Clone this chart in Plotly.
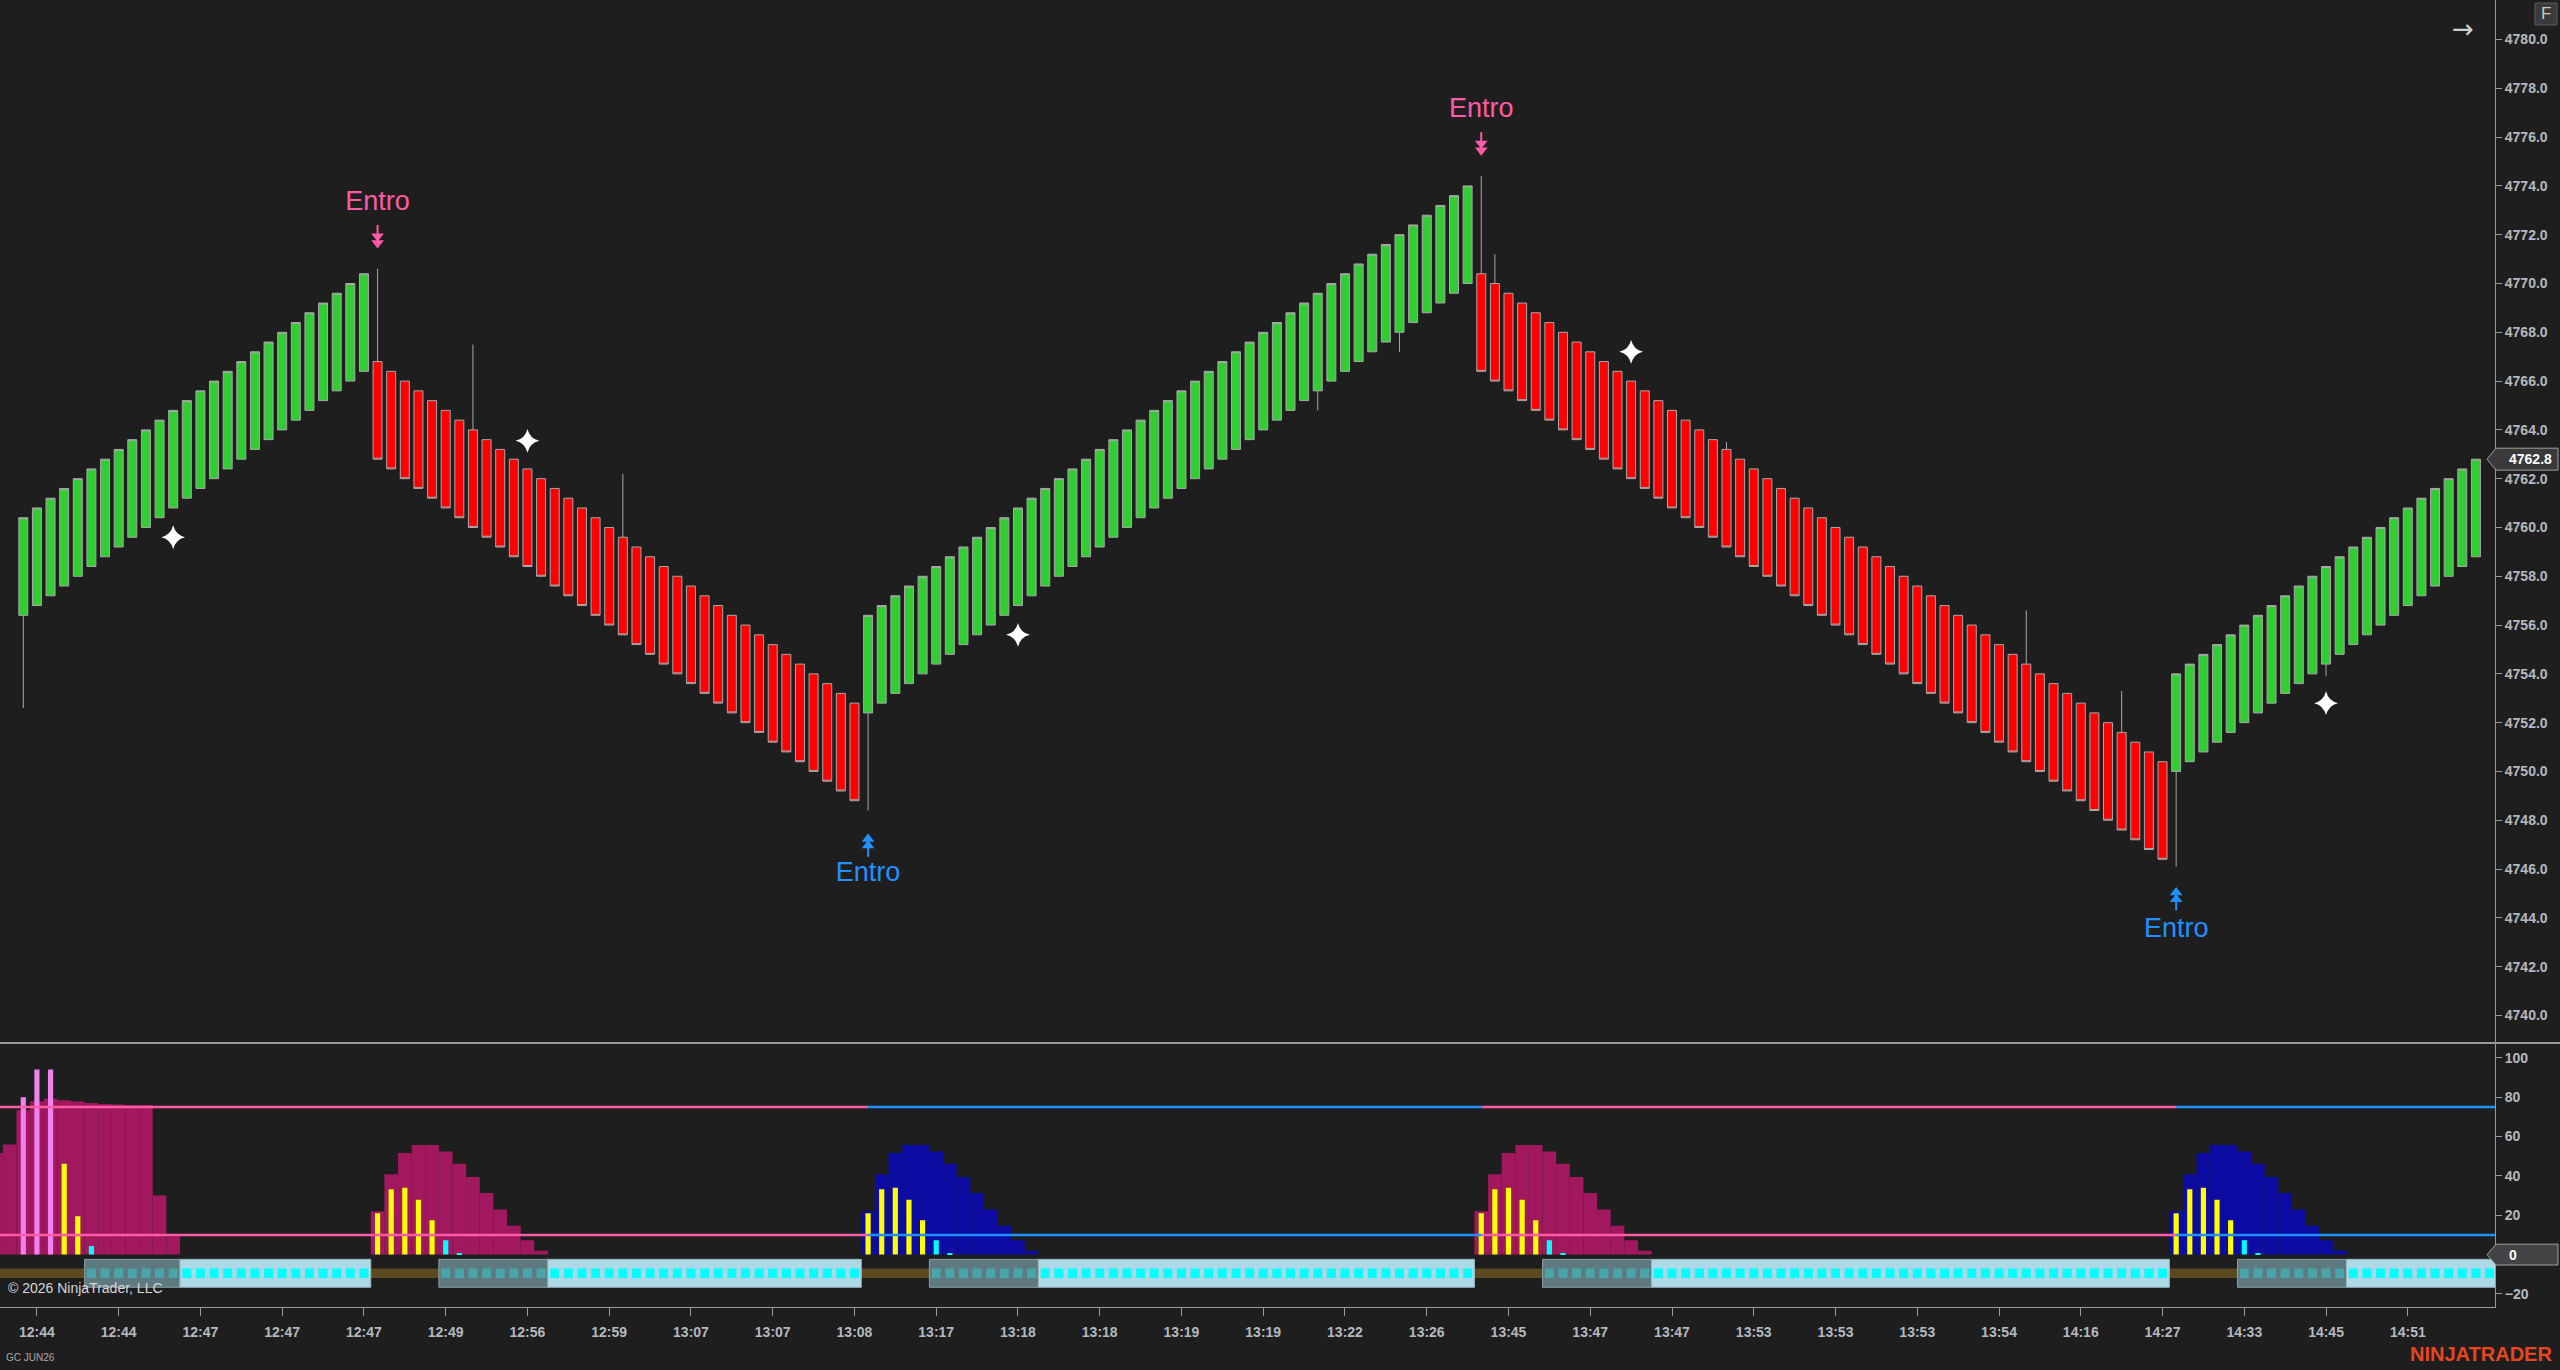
import plotly.graph_objects as go

# ---------------- colours ----------------
BG = "#1e1e1e"
AXIS = "#9a9a9a"
GREEN = "#32CD32"
RED = "#FF0000"
OUTLINE = "#a8a8a8"
PINK = "#FF5AA5"
BLUE = "#1E90FF"
MAGENTA_AREA = "#A1185E"
BLUE_AREA = "#0C0CA3"
YELLOW = "#FFFF00"
VIOLET = "#EE82EE"
CYAN = "#00FFFF"
TEAL = "#48A6AA"
GRAYBOX = "#5E7A80"
LIGHTBOX = "#ADD8E6"
OLIVE = "#5B4A1F"
LABEL = "#B4B9BF"

# ---------------- price pane data ----------------
opens = [
    # up leg, bars 0-25
    4756.4, 4756.8, 4757.2, 4757.6, 4758.0, 4758.4, 4758.8, 4759.2, 4759.6, 4760.0,
    4760.4, 4760.8, 4761.2, 4761.6, 4762.0, 4762.4, 4762.8, 4763.2, 4763.6, 4764.0,
    4764.4, 4764.8, 4765.2, 4765.6, 4766.0, 4766.4,
    # down leg, bars 26-61
    4766.8, 4766.4, 4766.0, 4765.6, 4765.2, 4764.8, 4764.4, 4764.0, 4763.6, 4763.2,
    4762.8, 4762.4, 4762.0, 4761.6, 4761.2, 4760.8, 4760.4, 4760.0, 4759.6, 4759.2,
    4758.8, 4758.4, 4758.0, 4757.6, 4757.2, 4756.8, 4756.4, 4756.0, 4755.6, 4755.2,
    4754.8, 4754.4, 4754.0, 4753.6, 4753.2, 4752.8,
    # up leg, bars 62-106
    4752.4, 4752.8, 4753.2, 4753.6, 4754.0, 4754.4, 4754.8, 4755.2, 4755.6, 4756.0,
    4756.4, 4756.8, 4757.2, 4757.6, 4758.0, 4758.4, 4758.8, 4759.2, 4759.6, 4760.0,
    4760.4, 4760.8, 4761.2, 4761.6, 4762.0, 4762.4, 4762.8, 4763.2, 4763.6, 4764.0,
    4764.4, 4764.8, 4765.2, 4765.6, 4766.0, 4766.4, 4766.8, 4767.2, 4767.6, 4768.0,
    4768.4, 4768.8, 4769.2, 4769.6, 4770.0,
    # down leg, bars 107-157
    4770.4, 4770.0, 4769.6, 4769.2, 4768.8, 4768.4, 4768.0, 4767.6, 4767.2, 4766.8,
    4766.4, 4766.0, 4765.6, 4765.2, 4764.8, 4764.4, 4764.0, 4763.6, 4763.2, 4762.8,
    4762.4, 4762.0, 4761.6, 4761.2, 4760.8, 4760.4, 4760.0, 4759.6, 4759.2, 4758.8,
    4758.4, 4758.0, 4757.6, 4757.2, 4756.8, 4756.4, 4756.0, 4755.6, 4755.2, 4754.8,
    4754.4, 4754.0, 4753.6, 4753.2, 4752.8, 4752.4, 4752.0, 4751.6, 4751.2, 4750.8,
    4750.4,
    # up leg, bars 158-180
    4750.0, 4750.4, 4750.8, 4751.2, 4751.6, 4752.0, 4752.4, 4752.8, 4753.2, 4753.6,
    4754.0, 4754.4, 4754.8, 4755.2, 4755.6, 4756.0, 4756.4, 4756.8, 4757.2, 4757.6,
    4758.0, 4758.4, 4758.8,
]

closes = [
    4760.4, 4760.8, 4761.2, 4761.6, 4762.0, 4762.4, 4762.8, 4763.2, 4763.6, 4764.0,
    4764.4, 4764.8, 4765.2, 4765.6, 4766.0, 4766.4, 4766.8, 4767.2, 4767.6, 4768.0,
    4768.4, 4768.8, 4769.2, 4769.6, 4770.0, 4770.4,
    4762.8, 4762.4, 4762.0, 4761.6, 4761.2, 4760.8, 4760.4, 4760.0, 4759.6, 4759.2,
    4758.8, 4758.4, 4758.0, 4757.6, 4757.2, 4756.8, 4756.4, 4756.0, 4755.6, 4755.2,
    4754.8, 4754.4, 4754.0, 4753.6, 4753.2, 4752.8, 4752.4, 4752.0, 4751.6, 4751.2,
    4750.8, 4750.4, 4750.0, 4749.6, 4749.2, 4748.8,
    4756.4, 4756.8, 4757.2, 4757.6, 4758.0, 4758.4, 4758.8, 4759.2, 4759.6, 4760.0,
    4760.4, 4760.8, 4761.2, 4761.6, 4762.0, 4762.4, 4762.8, 4763.2, 4763.6, 4764.0,
    4764.4, 4764.8, 4765.2, 4765.6, 4766.0, 4766.4, 4766.8, 4767.2, 4767.6, 4768.0,
    4768.4, 4768.8, 4769.2, 4769.6, 4770.0, 4770.4, 4770.8, 4771.2, 4771.6, 4772.0,
    4772.4, 4772.8, 4773.2, 4773.6, 4774.0,
    4766.4, 4766.0, 4765.6, 4765.2, 4764.8, 4764.4, 4764.0, 4763.6, 4763.2, 4762.8,
    4762.4, 4762.0, 4761.6, 4761.2, 4760.8, 4760.4, 4760.0, 4759.6, 4759.2, 4758.8,
    4758.4, 4758.0, 4757.6, 4757.2, 4756.8, 4756.4, 4756.0, 4755.6, 4755.2, 4754.8,
    4754.4, 4754.0, 4753.6, 4753.2, 4752.8, 4752.4, 4752.0, 4751.6, 4751.2, 4750.8,
    4750.4, 4750.0, 4749.6, 4749.2, 4748.8, 4748.4, 4748.0, 4747.6, 4747.2, 4746.8,
    4746.4,
    4754.0, 4754.4, 4754.8, 4755.2, 4755.6, 4756.0, 4756.4, 4756.8, 4757.2, 4757.6,
    4758.0, 4758.4, 4758.8, 4759.2, 4759.6, 4760.0, 4760.4, 4760.8, 4761.2, 4761.6,
    4762.0, 4762.4, 4762.8,
]

# wicks that stick out of the bodies (bar index -> price); other bars have no wick
wick_highs = {26: 4770.6, 33: 4767.5, 44: 4762.2, 107: 4774.4, 108: 4771.2,
              125: 4763.5, 147: 4756.6, 154: 4753.3}
wick_lows = {0: 4752.6, 62: 4748.4, 95: 4764.8, 101: 4767.2, 158: 4746.1, 169: 4753.9}

bar_idx = list(range(len(opens)))
highs = [wick_highs.get(i, max(o, c)) for i, (o, c) in enumerate(zip(opens, closes))]
lows = [wick_lows.get(i, min(o, c)) for i, (o, c) in enumerate(zip(opens, closes))]

# signal markers
star_x = [11, 37, 73, 118, 169]
star_y = [4759.6, 4763.55, 4755.6, 4767.2, 4752.8]

sell_x = [26, 107]
sell_arrow_y = [4771.8, 4775.6]
sell_text_y = [4773.3, 4777.1]
buy_x = [62, 158]
buy_arrow_y = [4747.1, 4744.9]
buy_text_y = [4745.8, 4743.5]

price_ticks = [4740, 4742, 4744, 4746, 4748, 4750, 4752, 4754, 4756, 4758, 4760,
               4762, 4764, 4766, 4768, 4770, 4772, 4774, 4776, 4778, 4780]

tick_bars = [1, 7, 13, 19, 25, 31, 37, 43, 49, 55, 61, 67, 73, 79, 85, 91, 97, 103,
             109, 115, 121, 127, 133, 139, 145, 151, 157, 163, 169, 175]
tick_labels = ["12:44", "12:44", "12:47", "12:47", "12:47", "12:49", "12:56", "12:59",
               "13:07", "13:07", "13:08", "13:17", "13:18", "13:18", "13:19", "13:19",
               "13:22", "13:26", "13:45", "13:47", "13:47", "13:53", "13:53", "13:53",
               "13:54", "14:16", "14:27", "14:33", "14:45", "14:51"]

# ---------------- indicator pane data ----------------
hump1_x = [-2, -1, 0, 1, 2, 3, 4, 5, 6, 7, 8, 9, 10, 11]
hump1_v = [51.6, 55.9, 73.3, 77.9, 79.1, 78.4, 77.7, 77.0, 76.5, 76.2, 76.0, 76.0, 30.0, 9.3]
hump2_x = [26, 27, 28, 29, 30, 31, 32, 33, 34, 35, 36, 37, 38]
hump2_v = [22.0, 40.8, 51.6, 55.7, 55.7, 52.3, 46.2, 39.4, 31.3, 22.9, 14.7, 7.3, 1.9]
hump3_x = [62, 63, 64, 65, 66, 67, 68, 69, 70, 71, 72, 73, 74]
hump3_v = [22.0, 40.8, 51.6, 55.7, 55.7, 52.3, 46.2, 39.4, 31.3, 22.9, 14.7, 7.3, 1.9]
hump4_x = [107, 108, 109, 110, 111, 112, 113, 114, 115, 116, 117, 118, 119]
hump4_v = [22.0, 40.8, 51.6, 55.7, 55.7, 52.3, 46.2, 39.4, 31.3, 22.9, 14.7, 7.3, 1.9]
hump5_x = [158, 159, 160, 161, 162, 163, 164, 165, 166, 167, 168, 169, 170]
hump5_v = [22.0, 40.8, 51.6, 55.7, 55.7, 52.3, 46.2, 39.4, 31.3, 22.9, 14.7, 7.3, 1.9]

spike_x = [0, 1, 2, 3, 4, 5,
           26, 27, 28, 29, 30, 31, 32,
           62, 63, 64, 65, 66, 67, 68,
           107, 108, 109, 110, 111, 112, 113,
           158, 159, 160, 161, 162, 163, 164]
spike_v = [79.9, 94.0, 94.0, 46.2, 19.5, 4.4,
           21.0, 33.2, 34.0, 27.8, 17.4, 7.3, 0.6,
           21.0, 33.2, 34.0, 27.8, 17.4, 7.3, 0.6,
           21.0, 33.2, 34.0, 27.8, 17.4, 7.3, 0.6,
           21.0, 33.2, 34.0, 27.8, 17.4, 7.3, 0.6]
spike_kind = ["v", "v", "v", "y", "y", "c",
              "y", "y", "y", "y", "y", "c", "c",
              "y", "y", "y", "y", "y", "c", "c",
              "y", "y", "y", "y", "y", "c", "c",
              "y", "y", "y", "y", "y", "c", "c"]

level_high = 75
level_low = 10
regime_edges = [-2, 62, 107, 158, 182]
regime_kind = ["bear", "bull", "bear", "bull"]

gray_start = [5, 31, 67, 112, 163]
gray_end = [11, 38, 74, 119, 170]
light_start = [12, 39, 75, 120, 171]
light_end = [25, 61, 106, 157, 181]
box_top, box_bottom = -2.4, -16.6
band_top, band_bottom = -7.1, -11.9
band_from, band_to = -2, 182

# ---------------- geometry (pixels of the 2560x1370 canvas) ----------------
W, H = 2560, 1370
X_RIGHT = 2495 / W
MAIN_DOM = [1 - 1043 / H, 1.0]
SUB_DOM = [1 - 1306.7 / H, 1 - 1044 / H]
X_RANGE = [-1.71, 181.40]
MAIN_RANGE = [4738.87, 4781.62]
SUB_RANGE = [-26.46, 106.96]
ARROW_GAP = 0.27   # vertical spacing of the two arrow heads, price units (~7 px)
STEM_OFF = 0.40    # stem position above/below the arrow centre, price units

fig = go.Figure()

# --- candles ---
fig.add_trace(go.Candlestick(
    x=bar_idx, open=opens, high=highs, low=lows, close=closes,
    increasing=dict(fillcolor=GREEN, line=dict(color=OUTLINE, width=1)),
    decreasing=dict(fillcolor=RED, line=dict(color=OUTLINE, width=1)),
    whiskerwidth=0, hoverinfo="skip", xaxis="x", yaxis="y"))

fig.add_trace(go.Scatter(
    x=star_x, y=star_y, mode="markers", hoverinfo="skip",
    marker=dict(symbol="star-diamond", size=17, color="white", line=dict(width=0)),
    xaxis="x", yaxis="y"))


def add_signal(xs, text_y, arrow_y, color, down):
    sign = 1 if down else -1
    fig.add_trace(go.Scatter(
        x=xs, y=text_y, mode="text", text=["Entro"] * len(xs), hoverinfo="skip",
        textfont=dict(family="Liberation Sans, Arial", size=27, color=color),
        xaxis="x", yaxis="y"))
    fig.add_trace(go.Scatter(
        x=xs, y=[v + sign * STEM_OFF for v in arrow_y], mode="markers", hoverinfo="skip",
        marker=dict(symbol="line-ns", size=7, line=dict(color=color, width=2)),
        xaxis="x", yaxis="y"))
    for off in (ARROW_GAP / 2, -ARROW_GAP / 2):
        fig.add_trace(go.Scatter(
            x=xs, y=[v + off for v in arrow_y], mode="markers", hoverinfo="skip",
            marker=dict(symbol="triangle-down" if down else "triangle-up", size=11,
                        color=color, line=dict(width=0)),
            xaxis="x", yaxis="y"))


add_signal(sell_x, sell_text_y, sell_arrow_y, PINK, True)
add_signal(buy_x, buy_text_y, buy_arrow_y, BLUE, False)

# --- indicator pane ---
fig.add_trace(go.Bar(
    x=[(band_from + band_to) / 2], y=[band_top - band_bottom], base=[band_bottom],
    width=[band_to - band_from], marker=dict(color=OLIVE, line=dict(width=0)),
    hoverinfo="skip", xaxis="x", yaxis="y2"))
fig.add_trace(go.Bar(
    x=[(s + e) / 2 for s, e in zip(gray_start, gray_end)],
    y=[box_top - box_bottom] * len(gray_start), base=[box_bottom] * len(gray_start),
    width=[e - s + 1 for s, e in zip(gray_start, gray_end)],
    marker=dict(color=GRAYBOX, line=dict(color="#8a9ea4", width=1)),
    hoverinfo="skip", xaxis="x", yaxis="y2"))
fig.add_trace(go.Bar(
    x=[(s + e) / 2 for s, e in zip(light_start, light_end)],
    y=[box_top - box_bottom] * len(light_start), base=[box_bottom] * len(light_start),
    width=[e - s + 1 for s, e in zip(light_start, light_end)],
    marker=dict(color=LIGHTBOX, line=dict(color="#9bb6c0", width=1)),
    hoverinfo="skip", xaxis="x", yaxis="y2"))
gray_sq = [i for s, e in zip(gray_start, gray_end) for i in range(s, e + 1)]
light_sq = [i for s, e in zip(light_start, light_end) for i in range(s, e + 1)]
fig.add_trace(go.Bar(
    x=gray_sq, y=[band_top - band_bottom] * len(gray_sq), base=[band_bottom] * len(gray_sq),
    width=0.66, marker=dict(color=TEAL, line=dict(width=0)),
    hoverinfo="skip", xaxis="x", yaxis="y2"))
fig.add_trace(go.Bar(
    x=light_sq, y=[band_top - band_bottom] * len(light_sq), base=[band_bottom] * len(light_sq),
    width=0.66, marker=dict(color=CYAN, line=dict(width=0)),
    hoverinfo="skip", xaxis="x", yaxis="y2"))

area_x = hump1_x + hump2_x + hump3_x + hump4_x + hump5_x
area_v = hump1_v + hump2_v + hump3_v + hump4_v + hump5_v
area_c = ([MAGENTA_AREA] * len(hump1_x) + [MAGENTA_AREA] * len(hump2_x) +
          [BLUE_AREA] * len(hump3_x) + [MAGENTA_AREA] * len(hump4_x) +
          [BLUE_AREA] * len(hump5_x))
fig.add_trace(go.Bar(
    x=area_x, y=area_v, width=1.0, marker=dict(color=area_c, line=dict(width=0)),
    hoverinfo="skip", xaxis="x", yaxis="y2"))

kind_color = {"v": VIOLET, "y": YELLOW, "c": CYAN}
fig.add_trace(go.Bar(
    x=spike_x, y=spike_v, width=0.38,
    marker=dict(color=[kind_color[k] for k in spike_kind], line=dict(width=0)),
    hoverinfo="skip", xaxis="x", yaxis="y2"))

regime_color = {"bear": PINK, "bull": BLUE}
for lvl in (level_high, level_low):
    for k, kind in enumerate(regime_kind):
        fig.add_trace(go.Scatter(
            x=[regime_edges[k], regime_edges[k + 1]], y=[lvl, lvl], mode="lines",
            line=dict(color=regime_color[kind], width=2.5), hoverinfo="skip",
            xaxis="x", yaxis="y2"))

# ---------------- layout ----------------
axis_font = dict(family="Liberation Sans, Arial", size=14, color=LABEL, weight="bold")

last_price = closes[-1]
ph = 0.45     # half height of price marker (price units)
zh = 5.3      # half height of zero marker (indicator units)
tip, bl, br = 2487 / W, 2496 / W, 2558 / W

shapes = [
    dict(type="line", xref="paper", yref="paper", x0=0, x1=1, y0=MAIN_DOM[0], y1=MAIN_DOM[0],
         line=dict(color=AXIS, width=2), layer="above"),
    dict(type="path", xref="paper", yref="y", layer="above",
         path=f"M {tip},{last_price} L {bl},{last_price + ph} L {br},{last_price + ph} "
              f"L {br},{last_price - ph} L {bl},{last_price - ph} Z",
         fillcolor="#3a3a3c", line=dict(color="#a0a0a0", width=1)),
    dict(type="path", xref="paper", yref="y2", layer="above",
         path=f"M {tip},0 L {bl},{zh} L {br},{zh} L {br},{-zh} L {bl},{-zh} Z",
         fillcolor="#444446", line=dict(color="#a0a0a0", width=1)),
    # "F" button frame
    dict(type="rect", xref="paper", yref="paper", x0=2535 / W, x1=2557 / W,
         y0=1 - 25 / H, y1=1 - 3 / H, fillcolor="#3a3a3c",
         line=dict(color="#5a5a5a", width=1), layer="above"),
]

marker_font = dict(family="Liberation Sans, Arial", size=14, color="white", weight="bold")
annotations = [
    dict(xref="paper", yref="y", x=2507 / W, y=last_price, text=f"{last_price:.1f}",
         showarrow=False, xanchor="left", yanchor="middle", font=marker_font),
    dict(xref="paper", yref="y2", x=2507 / W, y=0, text="0",
         showarrow=False, xanchor="left", yanchor="middle", font=marker_font),
    dict(xref="paper", yref="paper", x=2546 / W, y=1 - 14 / H, text="F", showarrow=False,
         xanchor="center", yanchor="middle",
         font=dict(family="Liberation Sans", size=17, color="#c8c8c8")),
    dict(xref="paper", yref="paper", x=2463 / W, y=1 - 29 / H, text="\u2192", showarrow=False,
         xanchor="center", yanchor="middle",
         font=dict(family="DejaVu Sans", size=26, color="#d0d0d0")),
    dict(xref="paper", yref="paper", x=6 / W, y=1 - 1288 / H, text="\u00a9 2026 NinjaTrader, LLC",
         showarrow=False, xanchor="left", yanchor="middle",
         font=dict(family="Liberation Sans, Arial", size=14, color="#d8d8d8")),
    dict(xref="paper", yref="paper", x=4 / W, y=1 - 1357 / H, text="GC JUN26",
         showarrow=False, xanchor="left", yanchor="middle",
         font=dict(family="Liberation Sans, Arial", size=10, color="#a8a8a8")),
    dict(xref="paper", yref="paper", x=2554 / W, y=1 - 1354 / H, text="<b>NINJATRADER</b>",
         showarrow=False, xanchor="right", yanchor="middle",
         font=dict(family="Liberation Sans, Arial", size=20, color="#E8461E")),
]

fig.update_layout(
    width=W, height=H, margin=dict(l=0, r=0, t=0, b=0),
    paper_bgcolor=BG, plot_bgcolor=BG, showlegend=False, hovermode=False,
    barmode="overlay", boxgap=0.34, boxgroupgap=0,
    xaxis=dict(domain=[0, X_RIGHT], range=X_RANGE, anchor="y2", showgrid=False,
               zeroline=False, showline=True, linecolor=AXIS, linewidth=1,
               ticks="outside", ticklen=8, tickcolor=AXIS, tickwidth=1,
               ticklabelstandoff=4,
               tickvals=tick_bars, ticktext=tick_labels, tickfont=axis_font,
               rangeslider=dict(visible=False), fixedrange=True),
    yaxis=dict(domain=MAIN_DOM, range=MAIN_RANGE, side="right", anchor="x",
               showgrid=False, zeroline=False, showline=True, linecolor=AXIS, linewidth=1,
               ticks="outside", ticklen=6, tickcolor=AXIS, tickvals=price_ticks,
               tickformat=".1f", tickfont=axis_font, fixedrange=True),
    yaxis2=dict(domain=SUB_DOM, range=SUB_RANGE, side="right", anchor="x",
                showgrid=False, zeroline=False, showline=True, linecolor=AXIS, linewidth=1,
                ticks="outside", ticklen=6, tickcolor=AXIS,
                tickvals=[100, 80, 60, 40, 20, -20], tickfont=axis_font, fixedrange=True),
    shapes=shapes, annotations=annotations,
)

fig.write_html("out.html", config={"displayModeBar": False},
               post_script="document.body.style.margin='0px';"
                           "document.body.style.overflow='hidden';"
                           "document.body.style.background='" + BG + "';")
